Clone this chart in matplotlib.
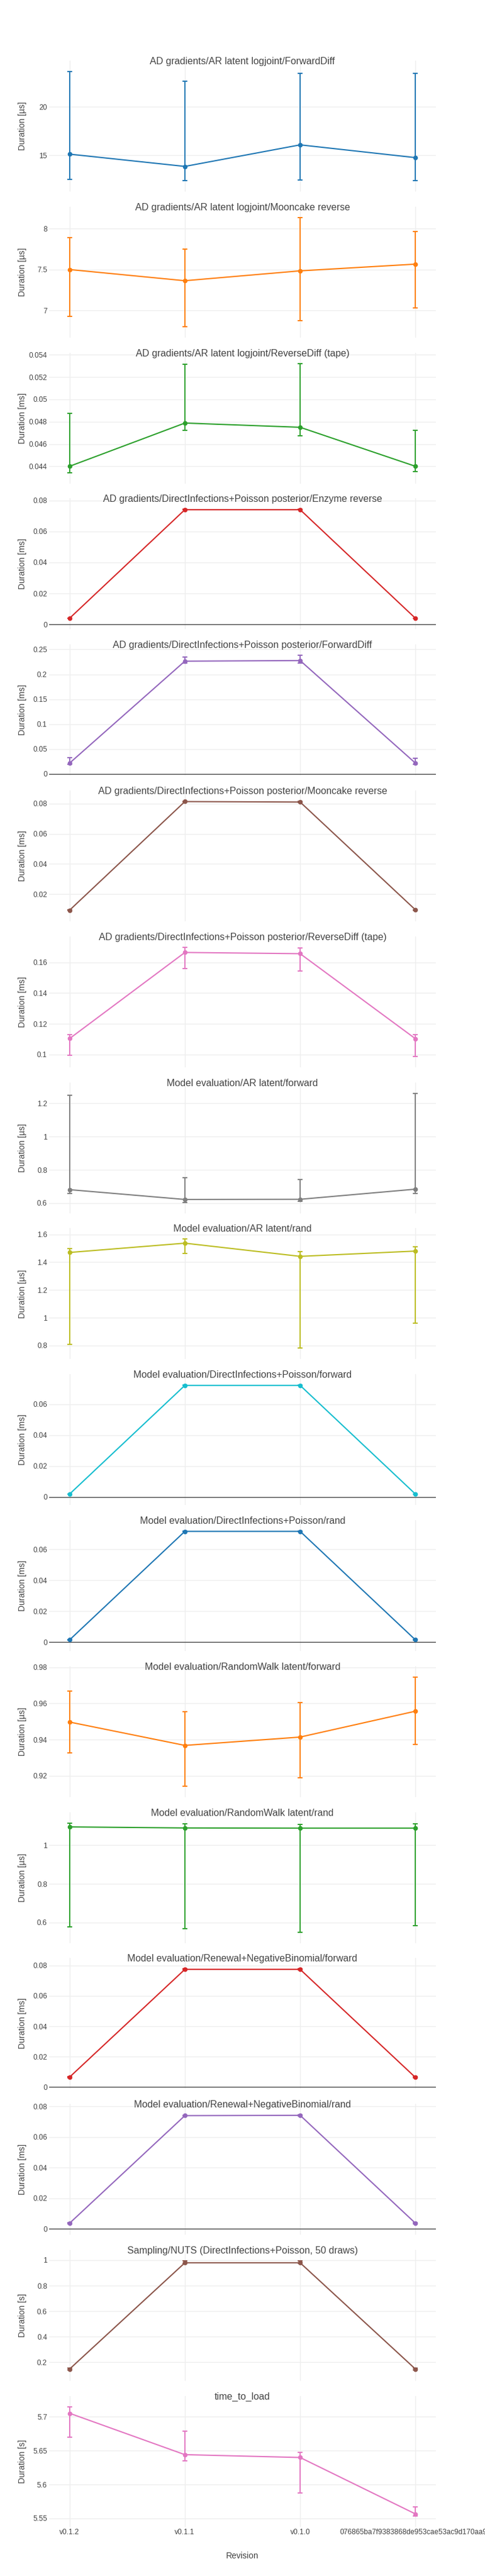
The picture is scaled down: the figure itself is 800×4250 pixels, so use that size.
import matplotlib
matplotlib.use("Agg")
import matplotlib.pyplot as plt
from matplotlib.ticker import MultipleLocator, FuncFormatter

plt.rcParams['font.family'] = ['Liberation Sans', 'DejaVu Sans']

# revisions on the shared x axis
revisions = ["v0.1.2", "v0.1.1", "v0.1.0", "076865ba7f9383868de953cae53ac9d170aa9b"]

titles = [
    "AD gradients/AR latent logjoint/ForwardDiff",
    "AD gradients/AR latent logjoint/Mooncake reverse",
    "AD gradients/AR latent logjoint/ReverseDiff (tape)",
    "AD gradients/DirectInfections+Poisson posterior/Enzyme reverse",
    "AD gradients/DirectInfections+Poisson posterior/ForwardDiff",
    "AD gradients/DirectInfections+Poisson posterior/Mooncake reverse",
    "AD gradients/DirectInfections+Poisson posterior/ReverseDiff (tape)",
    "Model evaluation/AR latent/forward",
    "Model evaluation/AR latent/rand",
    "Model evaluation/DirectInfections+Poisson/forward",
    "Model evaluation/DirectInfections+Poisson/rand",
    "Model evaluation/RandomWalk latent/forward",
    "Model evaluation/RandomWalk latent/rand",
    "Model evaluation/Renewal+NegativeBinomial/forward",
    "Model evaluation/Renewal+NegativeBinomial/rand",
    "Sampling/NUTS (DirectInfections+Poisson, 50 draws)",
    "time_to_load",
]
units = ["µs", "µs", "ms", "ms", "ms", "ms", "ms", "µs", "µs",
         "ms", "ms", "µs", "µs", "ms", "ms", "s", "s"]

# mean durations per benchmark
means = [
    [15.11, 13.84, 16.07, 14.75],
    [7.50, 7.363, 7.484, 7.566],
    [0.0440, 0.04788, 0.04750, 0.0440],
    [0.00405, 0.0740, 0.0740, 0.00405],
    [0.0217, 0.2264, 0.2276, 0.0217],
    [0.00935, 0.0813, 0.0810, 0.0096],
    [0.1104, 0.1665, 0.1657, 0.1103],
    [0.681, 0.622, 0.623, 0.684],
    [1.470, 1.537, 1.442, 1.480],
    [0.0018, 0.0721, 0.0721, 0.0018],
    [0.0015, 0.0716, 0.0716, 0.0015],
    [0.9497, 0.9368, 0.9414, 0.9557],
    [1.095, 1.0896, 1.0885, 1.0885],
    [0.0066, 0.0774, 0.0774, 0.0064],
    [0.0037, 0.0739, 0.0741, 0.0037],
    [0.147, 0.9795, 0.9795, 0.147],
    [5.7053, 5.6441, 5.6399, 5.5565],
]
# lower / upper ends of the error bars
lows = [
    [12.52, 12.37, 12.41, 12.37],
    [6.923, 6.802, 6.871, 7.034],
    [0.04344, 0.04725, 0.04675, 0.04355],
    [0.0039, 0.0738, 0.0738, 0.0039],
    [0.019, 0.222, 0.222, 0.019],
    [0.0092, 0.0810, 0.0807, 0.0094],
    [0.0996, 0.156, 0.1546, 0.0988],
    [0.657, 0.605, 0.610, 0.659],
    [0.808, 1.464, 0.780, 0.960],
    [0.0017, 0.0719, 0.0719, 0.0017],
    [0.0013, 0.0714, 0.0714, 0.0013],
    [0.9326, 0.9143, 0.9190, 0.9372],
    [0.5776, 0.5686, 0.5507, 0.5843],
    [0.0062, 0.0771, 0.0771, 0.0060],
    [0.0032, 0.0736, 0.0738, 0.0032],
    [0.140, 0.974, 0.974, 0.140],
    [5.670, 5.6349, 5.5875, 5.5536],
]
highs = [
    [23.66, 22.63, 23.46, 23.46],
    [7.892, 7.752, 8.137, 7.968],
    [0.04875, 0.05317, 0.05323, 0.0472],
    [0.0042, 0.0742, 0.0742, 0.0042],
    [0.0325, 0.2342, 0.2381, 0.032],
    [0.0095, 0.0815, 0.0813, 0.0098],
    [0.1128, 0.1699, 0.1695, 0.1128],
    [1.249, 0.754, 0.742, 1.261],
    [1.499, 1.566, 1.478, 1.510],
    [0.0019, 0.0723, 0.0723, 0.0019],
    [0.0017, 0.0718, 0.0718, 0.0017],
    [0.9667, 0.9555, 0.9605, 0.9746],
    [1.1154, 1.111, 1.1087, 1.111],
    [0.0070, 0.0777, 0.0777, 0.0068],
    [0.0042, 0.0742, 0.0744, 0.0042],
    [0.153, 0.993, 0.995, 0.153],
    [5.7149, 5.6793, 5.6474, 5.5666],
]
y_steps = [5, 0.5, 0.002, 0.02, 0.05, 0.02, 0.02, 0.2, 0.2,
           0.02, 0.02, 0.02, 0.2, 0.02, 0.02, 0.2, 0.05]

colors = ["#1f77b4", "#ff7f0e", "#2ca02c", "#d62728", "#9467bd",
          "#8c564b", "#e377c2", "#7f7f7f", "#bcbd22", "#17becf"]

W, H = 800, 4250
fig = plt.figure(figsize=(W / 100, H / 100), dpi=100)
fig.patch.set_facecolor("white")

x = list(range(len(revisions)))
left, plot_w = 80.6, 638.8
plot_h, pitch, first_top = 216, 240.8, 100

for i, title in enumerate(titles):
    top = first_top + i * pitch
    ax = fig.add_axes([left / W, 1 - (top + plot_h) / H, plot_w / W, plot_h / H])
    c = colors[i % len(colors)]
    m, lo, hi = means[i], lows[i], highs[i]
    yerr = [[a - b for a, b in zip(m, lo)], [b - a for a, b in zip(m, hi)]]
    ax.errorbar(x, m, yerr=yerr, color=c, lw=1.5, marker="o", ms=4.5,
                elinewidth=1.4, capsize=3.2, capthick=1.4, zorder=3)

    ymin, ymax = min(lo), max(hi)
    pad = 0.1 * (ymax - ymin)
    ax.set_ylim(ymin - pad, ymax + pad)
    ax.set_xlim(-0.18, 3.18)
    if ymin - pad < 0 < ymax + pad:
        ax.axhline(0, color="#444444", lw=1, zorder=2)

    ax.yaxis.set_major_locator(MultipleLocator(y_steps[i]))
    ax.yaxis.set_major_formatter(FuncFormatter(lambda v, p: f"{round(v, 6):g}"))
    ax.set_xticks(x)
    ax.set_xticklabels(revisions)
    ax.grid(True, color="#eeeeee", lw=1, zorder=0)
    ax.set_axisbelow(True)
    for s in ax.spines.values():
        s.set_visible(False)
    ax.tick_params(length=0, labelsize=8.64, colors="#444444", pad=2,
                   labelbottom=(i == len(titles) - 1))

    ax.text(0.5, 1 - 6 / plot_h, title, transform=ax.transAxes, ha="center",
            va="baseline", fontsize=11.52, color="#444444")
    ax.text(-43.6 / plot_w, 0.5, f"Duration [{units[i]}]", transform=ax.transAxes,
            rotation=90, ha="center", va="center", fontsize=10.08, color="#444444")

fig.text(400 / W, 1 - 4217 / H, "Revision", ha="center", va="center",
         fontsize=10.08, color="#444444")

fig.savefig("out.png", dpi=100)
